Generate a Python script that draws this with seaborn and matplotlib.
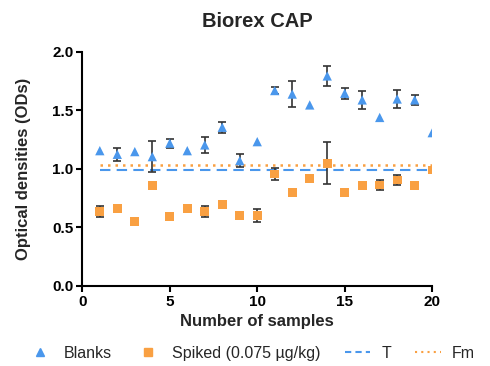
import numpy as np
import pandas as pd
import matplotlib
matplotlib.use("Agg")
import matplotlib.pyplot as plt
import seaborn as sns
from matplotlib.lines import Line2D

samples = list(range(1, 21))
blanks = [1.156, 1.125, 1.148, 1.105, 1.22, 1.156, 1.205, 1.356, 1.07, 1.233,
          1.67, 1.64, 1.547, 1.795, 1.647, 1.59, 1.44, 1.598, 1.59, 1.31]
blanks_err = [0, 0.055, 0, 0.135, 0.04, 0, 0.07, 0.045, 0.055, 0,
              0.03, 0.11, 0, 0.085, 0.045, 0.075, 0, 0.08, 0.045, 0]
spiked = [0.635, 0.664, 0.55, 0.857, 0.595, 0.66, 0.635, 0.695, 0.604, 0.60,
          0.957, 0.80, 0.917, 1.048, 0.80, 0.86, 0.863, 0.906, 0.857, 0.99]
spiked_err = [0.045, 0, 0, 0.03, 0, 0, 0.045, 0, 0, 0.055,
              0.055, 0, 0, 0.18, 0, 0, 0.04, 0.045, 0, 0]
T_value = 0.994
Fm_value = 1.03
labels = ["Blanks", "Spiked (0.075 \u00b5g/kg)", "T", "Fm"]

blue = "#4a97ec"
orange = "#f9a042"

sns.set_theme(style="ticks")
plt.rcParams['font.family'] = ['Liberation Sans', 'DejaVu Sans']

fig = plt.figure(figsize=(4.9, 3.66), dpi=100)
ax = fig.add_axes([0.168, 0.219, 0.714, 0.639])

df_b = pd.DataFrame({"x": samples, "y": blanks})
df_s = pd.DataFrame({"x": samples, "y": spiked})

# T and Fm lines
ax.plot([samples[0], samples[-1]], [T_value, T_value], color=blue, lw=1.5,
        ls=(0, (5, 3)), zorder=1)
ax.plot([samples[0], samples[-1]], [Fm_value, Fm_value], color=orange, lw=1.8,
        ls=(0, (1, 2)), zorder=1)

# error bars
for xs, ys, es in [(samples, blanks, blanks_err), (samples, spiked, spiked_err)]:
    xe = [x for x, e in zip(xs, es) if e > 0]
    ye = [y for y, e in zip(ys, es) if e > 0]
    ee = [e for e in es if e > 0]
    ax.errorbar(xe, ye, yerr=ee, fmt="none", ecolor="#333333", elinewidth=1.2,
                capsize=3, capthick=1.2, zorder=2)

sns.scatterplot(data=df_b, x="x", y="y", marker="^", s=45, color=blue,
                edgecolor="none", ax=ax, zorder=3)
sns.scatterplot(data=df_s, x="x", y="y", marker="s", s=40, color=orange,
                edgecolor="none", ax=ax, zorder=3)

ax.set_xlim(0, 20)
ax.set_ylim(0, 2.0)
ax.set_xticks([0, 5, 10, 15, 20])
ax.set_yticks([0, 0.5, 1.0, 1.5, 2.0])
ax.set_yticklabels(["0.0", "0.5", "1.0", "1.5", "2.0"])
for side in ["top", "right"]:
    ax.spines[side].set_visible(False)
for side in ["left", "bottom"]:
    ax.spines[side].set_linewidth(1.5)
    ax.spines[side].set_color("black")
ax.tick_params(axis="both", width=1.5, length=4, labelsize=11, colors="black",
               pad=2.5)
for lab in ax.get_xticklabels() + ax.get_yticklabels():
    lab.set_fontweight("bold")

ax.set_xlabel("Number of samples", fontsize=12, fontweight="bold", labelpad=4)
ax.set_ylabel("Optical densities (ODs)", fontsize=12, fontweight="bold", labelpad=15)
ax.set_title("Biorex CAP", fontsize=14.5, fontweight="bold", pad=18)

handles = [
    Line2D([], [], marker="^", ls="none", color=blue, markersize=6),
    Line2D([], [], marker="s", ls="none", color=orange, markersize=5.5),
    Line2D([], [], color=blue, lw=1.5, ls=(0, (3, 2))),
    Line2D([], [], color=orange, lw=1.5, ls=(0, (1, 2))),
]
fig.legend(handles, labels, loc="lower center", bbox_to_anchor=(0.512, -0.025),
           ncol=4, frameon=False, fontsize=11.5, handlelength=1.6,
           columnspacing=1.5, handletextpad=0.7)

fig.savefig("out.png", dpi=100)
